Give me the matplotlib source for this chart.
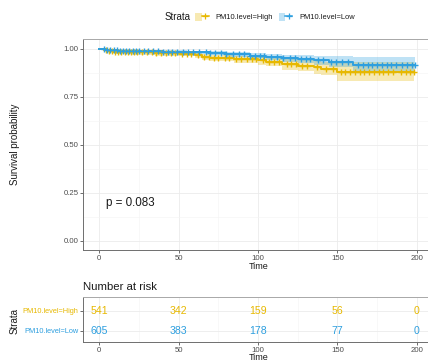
import numpy as np
import matplotlib
matplotlib.use("Agg")
import matplotlib.pyplot as plt
from matplotlib.patches import Patch
from matplotlib.lines import Line2D
from matplotlib.legend_handler import HandlerTuple

plt.rcParams['font.family'] = ['Liberation Sans', 'DejaVu Sans']

# ---------------- data ----------------
strata = ["PM10.level=High", "PM10.level=Low"]
colors = ["#E7B800", "#2E9FDF"]

high_times = [0, 3, 6, 10, 20, 35, 50, 60, 65, 70, 85, 100, 105, 115, 125, 135, 140, 150]
high_surv = [1.0, .995, .99, .986, .982, .978, .974, .968, .958, .952, .946, .940, .932, .920, .913, .905, .897, .882]
high_lower = [1.0, .989, .982, .976, .971, .966, .961, .954, .942, .935, .927, .919, .909, .893, .883, .872, .862, .832]
high_upper = [1.0, 1.0, .998, .996, .993, .990, .987, .982, .974, .969, .965, .961, .955, .947, .943, .938, .934, .932]
high_end = 198
high_censor = [4, 6, 8, 10, 12, 14, 16, 18, 20, 22, 24, 27, 30, 33, 36, 39, 42, 45, 48, 52,
               55, 58, 62, 66, 69, 72, 75, 79, 82, 86, 89, 93, 96, 99, 103, 107, 110, 113,
               118, 121, 124, 128, 131, 137, 143, 147, 152, 155, 158, 161, 164, 167, 170,
               173, 176, 179, 182, 185, 190, 193, 196, 198]

low_times = [0, 5, 12, 25, 40, 55, 70, 80, 95, 105, 115, 125, 135, 145, 160]
low_surv = [1.0, .995, .992, .989, .986, .982, .978, .972, .966, .960, .952, .946, .940, .934, .917]
low_lower = [1.0, .990, .986, .982, .978, .973, .967, .960, .952, .944, .934, .925, .916, .906, .876]
low_upper = [1.0, 1.0, .998, .996, .994, .991, .989, .985, .980, .976, .970, .967, .964, .962, .960]
low_end = 199
low_censor = [3, 5, 7, 9, 11, 13, 15, 17, 19, 21, 23, 25, 28, 31, 34, 37, 40, 43, 46, 49,
              53, 56, 59, 63, 67, 70, 73, 77, 80, 84, 88, 91, 95, 98, 101, 104, 108, 112,
              116, 120, 123, 127, 130, 133, 138, 141, 146, 149, 153, 157, 163, 166, 169,
              172, 175, 178, 181, 184, 187, 191, 194, 197, 199]

risk_times = [0, 50, 100, 150, 200]
risk_high = [541, 342, 159, 56, 0]
risk_low = [605, 383, 178, 77, 0]

x_ticks = [0, 50, 100, 150, 200]
y_ticks = [0.00, 0.25, 0.50, 0.75, 1.00]
y_ticklabels = ["0.00", "0.25", "0.50", "0.75", "1.00"]
p_text = "p = 0.083"

# ---------------- figure ----------------
W, H = 428, 362
fig = plt.figure(figsize=(W / 100, H / 100), dpi=100)

def fx(px):
    return px / W

def fy(py):
    return 1 - py / H

tick_col = "#4d4d4d"
grid_major = "#ebebeb"
grid_minor = "#f4f4f4"
spine_dark = "#6e6e6e"
spine_light = "#a8a8a8"

ax_left = 83.4
ax_width = 349.2
ax = fig.add_axes([fx(ax_left), fy(250.3), ax_width / W, 210.9 / H])
ax.set_xlim(-10, 210)
ax.set_ylim(-0.05, 1.05)
ax.set_xticks(x_ticks)
ax.set_xticks([25, 75, 125, 175], minor=True)
ax.set_yticks(y_ticks)
ax.set_yticklabels(y_ticklabels)
ax.set_yticks([0.125, 0.375, 0.625, 0.875], minor=True)
ax.grid(True, which="major", color=grid_major, linewidth=0.6, zorder=0)
ax.grid(True, which="minor", color=grid_minor, linewidth=0.4, zorder=0)
ax.set_axisbelow(True)
ax.tick_params(which="minor", length=0)
ax.tick_params(which="major", length=2.2, width=0.5, color="#333333",
               labelsize=5.6, labelcolor=tick_col, pad=1.5)
for s in ["left", "bottom"]:
    ax.spines[s].set_color(spine_dark)
    ax.spines[s].set_linewidth(0.7)
ax.spines["top"].set_color(spine_light)
ax.spines["top"].set_linewidth(0.7)
ax.spines["right"].set_visible(False)

def draw_curve(times, surv, lower, upper, end, censor, color):
    t = list(times) + [end]
    s = list(surv) + [surv[-1]]
    lo = list(lower) + [lower[-1]]
    up = list(upper) + [upper[-1]]
    ax.fill_between(t, lo, up, step="post", color=color, alpha=0.3, linewidth=0, zorder=2)
    ax.step(t, s, where="post", color=color, linewidth=1.4, zorder=3)
    idx = np.searchsorted(np.array(times), np.array(censor), side="right") - 1
    cs = np.array(surv)[idx]
    ax.plot(censor, cs, linestyle="none", marker="+", markersize=4.6,
            markeredgewidth=1.0, color=color, zorder=4)

draw_curve(high_times, high_surv, high_lower, high_upper, high_end, high_censor, colors[0])
draw_curve(low_times, low_surv, low_lower, low_upper, low_end, low_censor, colors[1])

ax.text(4.2, 0.195, p_text, ha="left", va="center", fontsize=8.4, color="#1a1a1a")

fig.text(fx(258.5), fy(266.5), "Time", ha="center", va="center", fontsize=6.5, color="#1a1a1a")
fig.text(fx(15), fy(144), "Survival probability", rotation=90, ha="center", va="center",
         fontsize=7, color="#1a1a1a")

# legend
fig.text(fx(165), fy(17), "Strata", ha="left", va="center", fontsize=7, color="#1a1a1a")
handles = []
for c in colors:
    handles.append((Patch(facecolor=c, alpha=0.3, edgecolor="none"),
                    Line2D([], [], color=c, linewidth=1.1, marker="+", markersize=4.5,
                           markeredgewidth=0.9)))
fig.legend(handles, strata, handler_map={tuple: HandlerTuple(ndivide=None, pad=0)},
           loc="center left", bbox_to_anchor=(fx(195), fy(17)), ncol=2, frameon=False,
           fontsize=5.4, handlelength=1.8, handleheight=1.4, handletextpad=0.9,
           columnspacing=0.8, borderpad=0, borderaxespad=0, labelcolor="#1a1a1a")

# ---------------- risk table ----------------
rax = fig.add_axes([fx(ax_left), fy(341.7), ax_width / W, 44.4 / H])
rax.set_xlim(-10, 210)
rax.set_ylim(-0.53, 1.66)
rax.set_xticks(x_ticks)
rax.set_xticks([25, 75, 125, 175], minor=True)
rax.set_yticks([1, 0])
rax.set_yticklabels(strata)
for lab, c in zip(rax.get_yticklabels(), colors):
    lab.set_color(c)
rax.grid(True, which="major", color=grid_major, linewidth=0.6, zorder=0)
rax.grid(True, which="minor", axis="x", color=grid_minor, linewidth=0.4, zorder=0)
rax.set_axisbelow(True)
rax.tick_params(which="minor", length=0)
rax.tick_params(axis="x", which="major", length=2.2, width=0.5, color="#333333",
                labelsize=5.6, labelcolor=tick_col, pad=1.5)
rax.tick_params(axis="y", which="major", length=2.2, width=0.5, color="#333333",
                labelsize=5.3, pad=1.5)
for s in ["left", "bottom"]:
    rax.spines[s].set_color(spine_dark)
    rax.spines[s].set_linewidth(0.7)
rax.spines["top"].set_color(spine_light)
rax.spines["top"].set_linewidth(0.7)
rax.spines["right"].set_visible(False)

for t, n in zip(risk_times, risk_high):
    rax.text(t, 1, str(n), ha="center", va="center", fontsize=7.6, color=colors[0])
for t, n in zip(risk_times, risk_low):
    rax.text(t, 0, str(n), ha="center", va="center", fontsize=7.6, color=colors[1])

fig.text(fx(83), fy(286.5), "Number at risk", ha="left", va="center", fontsize=8.2, color="#1a1a1a")
fig.text(fx(15), fy(321), "Strata", rotation=90, ha="center", va="center", fontsize=7, color="#1a1a1a")
fig.text(fx(258.5), fy(357), "Time", ha="center", va="center", fontsize=6.5, color="#1a1a1a")

fig.savefig("out.png", dpi=100)
